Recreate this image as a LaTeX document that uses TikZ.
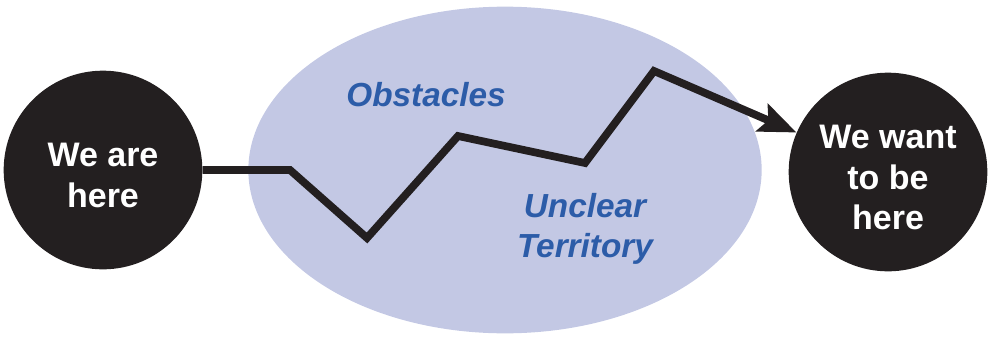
\documentclass[tikz,border=0pt]{standalone}
\usepackage{fontspec}
\setmainfont{Liberation Sans}
\usetikzlibrary{shapes.geometric,arrows.meta,positioning}
\definecolor{Night}{HTML}{231F20}
\definecolor{Haze}{HTML}{C3C8E4}
\definecolor{Ocean}{HTML}{2C5CA8}
\newcommand{\lift}{\rule{0pt}{26pt}}

\begin{document}
\begin{tikzpicture}[x=0.75pt,y=-0.75pt,
  spot/.style={circle,fill=Night,minimum size=149pt,inner sep=0pt,
    text=white,font=\fontsize{25.5}{30.5}\selectfont\bfseries,align=center},
  hint/.style={text=Ocean,font=\fontsize{25}{30}\selectfont\bfseries\itshape,align=center},
  route/.style={line width=5.8pt,Night,-{Stealth[length=28pt,width=22pt,inset=5pt]}}]
  \useasboundingbox (0,0) rectangle (988,336);
  % the territory in between
  \node[ellipse,fill=Haze,minimum width=385pt,minimum height=245pt,inner sep=0pt] (zone) at (505,170) {};
  \node[hint] (obst) at (426,95) {Obstacles};
  \node[hint] (fog) at (585,229) {Unclear\\Territory};
  \node[spot] (here) at (103,170) {\lift We are\\here};
  \node[spot] (there) at (888,172) {\lift We want\\to be\\here};
  \coordinate (k1) at (290,170);
  \coordinate (k2) at (367,238);
  \coordinate (k3) at (458,136);
  \coordinate (k4) at (585,163);
  \coordinate (k5) at (654,71);
  \draw[route] (here.east) -- (k1) -- (k2) -- (k3) -- (k4) -- (k5) -- (there);
\end{tikzpicture}
\end{document}
